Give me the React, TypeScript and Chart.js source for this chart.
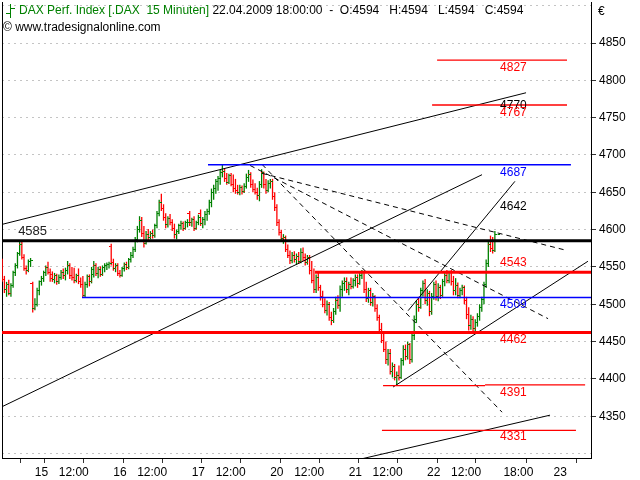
import React, { useEffect, useRef } from 'react';
import { Chart, registerables } from 'chart.js';

Chart.register(...registerables);

// ---------------- data ----------------
const BARS_PER_SESSION = 36;
const sessionDays = ['14', '15', '16', '17', '20', '21', '22'];

// [open, high, low, close] per 15-minute bar
const day14 = [
  [4556, 4561, 4530, 4533], [4533, 4538, 4515, 4520], [4520, 4530, 4510, 4527], [4527, 4533, 4512, 4515],
  [4515, 4528, 4510, 4525], [4525, 4545, 4522, 4542], [4542, 4555, 4538, 4552], [4552, 4570, 4548, 4568],
  [4568, 4585, 4565, 4580], [4580, 4584, 4560, 4563], [4563, 4567, 4545, 4548], [4548, 4552, 4540, 4545],
  [4545, 4560, 4543, 4557], [4557, 4562, 4550, 4558],
];
const day15 = [
  [4528, 4530, 4489, 4494], [4494, 4508, 4492, 4500], [4500, 4522, 4497, 4518], [4518, 4532, 4512, 4530],
  [4530, 4538, 4525, 4534], [4534, 4545, 4530, 4543], [4543, 4552, 4538, 4549], [4549, 4557, 4540, 4543],
  [4543, 4548, 4530, 4535], [4540, 4544, 4530, 4533], [4533, 4542, 4528, 4538], [4538, 4541, 4526, 4530],
  [4530, 4540, 4527, 4536], [4536, 4546, 4533, 4542], [4542, 4548, 4534, 4538], [4538, 4549, 4532, 4545],
  [4545, 4558, 4540, 4552], [4552, 4555, 4534, 4538], [4538, 4550, 4532, 4536], [4536, 4549, 4528, 4532],
  [4532, 4541, 4529, 4538], [4538, 4548, 4527, 4530], [4530, 4536, 4522, 4526], [4526, 4538, 4509, 4512],
  [4512, 4530, 4509, 4527], [4527, 4540, 4522, 4537], [4537, 4540, 4524, 4530], [4530, 4550, 4528, 4547],
  [4540, 4558, 4536, 4552], [4552, 4555, 4538, 4541], [4541, 4550, 4535, 4547], [4547, 4551, 4537, 4540],
  [4540, 4552, 4538, 4549], [4549, 4555, 4543, 4552], [4552, 4556, 4546, 4553], [4553, 4557, 4548, 4555],
];
const day16 = [
  [4578, 4581, 4552, 4556], [4556, 4561, 4545, 4548], [4548, 4555, 4543, 4552], [4552, 4555, 4538, 4541],
  [4541, 4546, 4536, 4539], [4539, 4550, 4537, 4548], [4548, 4556, 4544, 4553], [4553, 4557, 4546, 4549],
  [4549, 4562, 4547, 4560], [4560, 4570, 4556, 4566], [4566, 4577, 4562, 4573], [4573, 4590, 4570, 4587],
  [4587, 4605, 4583, 4600], [4600, 4618, 4596, 4612], [4612, 4617, 4590, 4595], [4595, 4605, 4576, 4582],
  [4582, 4598, 4580, 4594], [4594, 4601, 4586, 4590], [4590, 4598, 4587, 4595], [4595, 4600, 4588, 4592],
  [4592, 4608, 4589, 4605], [4605, 4625, 4602, 4622], [4622, 4640, 4618, 4636], [4636, 4648, 4625, 4628],
  [4628, 4634, 4612, 4616], [4616, 4622, 4602, 4607], [4607, 4618, 4603, 4615], [4615, 4621, 4606, 4610],
  [4610, 4614, 4598, 4602], [4602, 4608, 4588, 4593], [4593, 4600, 4587, 4597], [4597, 4608, 4594, 4605],
  [4605, 4612, 4600, 4608], [4608, 4611, 4598, 4602], [4602, 4612, 4600, 4609], [4609, 4614, 4603, 4610],
];
const day17 = [
  [4622, 4625, 4605, 4609], [4609, 4616, 4604, 4613], [4613, 4618, 4598, 4602], [4602, 4612, 4600, 4610],
  [4610, 4620, 4606, 4616], [4622, 4627, 4605, 4608], [4608, 4617, 4602, 4614], [4614, 4625, 4606, 4620],
  [4620, 4628, 4612, 4624], [4624, 4640, 4620, 4636], [4636, 4655, 4630, 4650], [4650, 4660, 4640, 4655],
  [4655, 4668, 4648, 4664], [4664, 4672, 4652, 4668], [4668, 4680, 4660, 4676], [4676, 4687, 4670, 4678],
  [4678, 4682, 4664, 4668], [4668, 4676, 4660, 4663], [4663, 4675, 4661, 4672], [4672, 4676, 4658, 4661],
  [4661, 4674, 4650, 4655], [4655, 4668, 4648, 4652], [4652, 4660, 4647, 4650], [4650, 4660, 4646, 4656],
  [4656, 4659, 4647, 4651], [4651, 4662, 4649, 4658], [4658, 4675, 4655, 4670], [4670, 4680, 4664, 4674],
  [4674, 4677, 4656, 4660], [4660, 4667, 4650, 4654], [4654, 4662, 4647, 4650], [4650, 4656, 4640, 4646],
  [4646, 4665, 4638, 4660], [4660, 4681, 4656, 4676], [4676, 4678, 4655, 4660], [4660, 4668, 4648, 4652],
];
const day20 = [
  [4652, 4666, 4650, 4662], [4662, 4668, 4655, 4664], [4664, 4668, 4640, 4645], [4645, 4650, 4625, 4630],
  [4630, 4634, 4605, 4610], [4610, 4614, 4592, 4596], [4596, 4600, 4584, 4588], [4588, 4594, 4581, 4590],
  [4590, 4592, 4570, 4574], [4574, 4580, 4562, 4566], [4566, 4572, 4554, 4558], [4558, 4570, 4555, 4566],
  [4566, 4571, 4556, 4560], [4560, 4568, 4553, 4564], [4564, 4570, 4554, 4557], [4557, 4575, 4555, 4570],
  [4570, 4576, 4558, 4562], [4562, 4568, 4552, 4556], [4556, 4566, 4553, 4562], [4562, 4566, 4540, 4545],
  [4545, 4558, 4528, 4532], [4532, 4548, 4515, 4520], [4520, 4540, 4515, 4536], [4536, 4542, 4518, 4522],
  [4522, 4526, 4505, 4510], [4510, 4518, 4496, 4500], [4500, 4508, 4488, 4492], [4492, 4505, 4485, 4500],
  [4500, 4503, 4478, 4482], [4482, 4490, 4472, 4478], [4478, 4495, 4475, 4490], [4490, 4510, 4486, 4505],
  [4505, 4512, 4494, 4498], [4498, 4525, 4490, 4520], [4520, 4532, 4510, 4528], [4528, 4536, 4518, 4530],
];
const day21 = [
  [4530, 4536, 4515, 4520], [4520, 4530, 4512, 4527], [4527, 4536, 4520, 4524], [4524, 4535, 4521, 4532],
  [4532, 4540, 4524, 4536], [4536, 4540, 4522, 4528], [4528, 4542, 4526, 4539], [4539, 4546, 4534, 4543],
  [4543, 4545, 4515, 4520], [4520, 4530, 4503, 4508], [4508, 4522, 4502, 4518], [4518, 4522, 4498, 4502],
  [4502, 4515, 4497, 4510], [4510, 4512, 4490, 4494], [4494, 4500, 4478, 4482], [4482, 4486, 4462, 4466],
  [4466, 4475, 4448, 4452], [4452, 4462, 4436, 4440], [4440, 4450, 4420, 4426], [4426, 4440, 4418, 4434],
  [4434, 4440, 4406, 4410], [4410, 4422, 4402, 4416], [4416, 4420, 4398, 4402], [4402, 4410, 4391, 4405],
  [4405, 4418, 4398, 4402], [4402, 4428, 4400, 4424], [4424, 4445, 4418, 4440], [4440, 4446, 4425, 4430],
  [4430, 4450, 4426, 4446], [4446, 4448, 4420, 4426], [4426, 4462, 4422, 4458], [4458, 4485, 4452, 4480],
  [4480, 4505, 4475, 4500], [4500, 4510, 4490, 4496], [4496, 4522, 4494, 4518], [4518, 4532, 4510, 4528],
];
const day22 = [
  [4528, 4534, 4500, 4505], [4505, 4520, 4498, 4515], [4515, 4518, 4484, 4490], [4490, 4515, 4486, 4510],
  [4510, 4530, 4506, 4526], [4526, 4532, 4505, 4510], [4510, 4528, 4504, 4522], [4522, 4526, 4507, 4512],
  [4512, 4534, 4510, 4530], [4530, 4542, 4524, 4538], [4538, 4546, 4528, 4532], [4532, 4545, 4528, 4542],
  [4542, 4546, 4525, 4530], [4530, 4538, 4512, 4518], [4518, 4535, 4512, 4525], [4525, 4529, 4508, 4512],
  [4512, 4522, 4508, 4518], [4518, 4526, 4512, 4522], [4522, 4525, 4500, 4505], [4505, 4510, 4480, 4486],
  [4486, 4496, 4465, 4472], [4472, 4486, 4466, 4480], [4480, 4484, 4462, 4468], [4468, 4480, 4464, 4476],
  [4476, 4488, 4470, 4484], [4484, 4500, 4478, 4495], [4495, 4510, 4490, 4506], [4506, 4530, 4500, 4526],
  [4526, 4560, 4522, 4555], [4555, 4586, 4550, 4580], [4580, 4592, 4570, 4575], [4575, 4590, 4568, 4572],
  [4572, 4598, 4570, 4594], [4594, 4594, 4594, 4594],
];
const sessions = [day14, day15, day16, day17, day20, day21, day22];

// axis
const X_MIN = 21.9;
const X_MAX = 292.1;
const Y_MIN = 4294;
const Y_MAX = 4905;
const xTickValues = [36, 47, 72, 83, 108, 119, 144, 155, 180, 191, 216, 227, 251, 274];
const xTickLabels = ['15', '12:00', '16', '12:00', '17', '12:00', '20', '12:00', '21', '12:00', '22', '12:00', '18:00', '23'];
const yTickValues = [4300, 4350, 4400, 4450, 4500, 4550, 4600, 4650, 4700, 4750, 4800, 4850, 4900];
const yTickLabeled = [4350, 4400, 4450, 4500, 4550, 4600, 4650, 4700, 4750, 4800, 4850];

// horizontal levels
const levelValues = [4585, 4543, 4462, 4509, 4687, 4827, 4767, 4391, 4392, 4331];
const levelFrom = [X_MIN, 165.5, X_MIN, 58.6, 116.4, 221.5, 219.2, 196.7, 243.5, 196.2];
const levelTo = [X_MAX, X_MAX, X_MAX, X_MAX, 282.9, 281.1, 281.1, 243.5, 289.4, 285.2];

// trend lines [index, price]
const trendFrom = [[21.9, 4607], [21.9, 4362.7], [208.2, 4491.4], [201.3, 4389.1], [185, 4291.6]];
const trendTo = [[262.3, 4783.4], [242.1, 4673.6], [257.2, 4664.7], [290.7, 4557.6], [273.3, 4351.4]];
const fanFrom = [[141.2, 4675.4], [135.7, 4686], [141.2, 4687.4]];
const fanTo = [[280.2, 4572.7], [272.4, 4480.7], [251.3, 4355.4]];

// level texts
const priceLabels = ['4827', '4770', '4767', '4687', '4642', '4543', '4509', '4462', '4391', '4331'];
const priceLabelValues = [4827, 4770, 4767, 4687, 4642, 4543, 4509, 4462, 4391, 4331];
const leftLabel = '4585';
const leftLabelValue = 4585;

const titleName = 'DAX Perf. Index [.DAX  15 Minuten]';
const titleQuote = ' 22.04.2009 18:00:00  -  O:4594   H:4594   L:4594   C:4594';
const copyright = '\u00A9 www.tradesignalonline.com';
const currency = '\u20AC';

// ---------------- styles ----------------
const GREEN = '#008000';
const RED = '#ff0000';
const BLUE = '#0000ff';
const BLACK = '#000000';
const FONT = 'Arial, "Liberation Sans", sans-serif';
const levelColors = [BLACK, RED, RED, BLUE, BLUE, RED, RED, RED, RED, RED];
const levelWidths = [3, 3, 3, 1.5, 1.5, 1.3, 1.3, 1.3, 1.3, 1.3];
const priceLabelColors = [RED, BLACK, RED, BLUE, BLACK, RED, BLUE, RED, RED, RED];
const priceLabelDy = [7, 3, 8, 8, 8, -9, 7, 7, 7, 6];
const PRICE_LABEL_X = 250.4;
const LEFT_LABEL_X = 29.3;

function makeTick(color: string, side: 'left' | 'right') {
  const c = document.createElement('canvas');
  c.width = 5;
  c.height = 1;
  const g = c.getContext('2d')!;
  g.fillStyle = color;
  g.fillRect(side === 'left' ? 0 : 3, 0, 2, 1);
  return c;
}

export default function App() {
  const ref = useRef<HTMLCanvasElement>(null);

  useEffect(() => {
    const bars: { x: number; o: number; h: number; l: number; c: number }[] = [];
    sessions.forEach((day, d) => {
      const start = d * BARS_PER_SESSION + (d === 0 ? BARS_PER_SESSION - day.length : 0);
      day.forEach((b, k) => bars.push({ x: start + k, o: b[0], h: b[1], l: b[2], c: b[3] }));
    });
    const up = bars.filter((b) => b.c >= b.o);
    const down = bars.filter((b) => b.c < b.o);

    const tickSet = {
      gl: makeTick(GREEN, 'left'), gr: makeTick(GREEN, 'right'),
      rl: makeTick(RED, 'left'), rr: makeTick(RED, 'right'),
    };

    const hl = (arr: typeof bars, color: string) => ({
      type: 'bar' as const,
      data: arr.map((b) => ({ x: b.x, y: [b.l, b.h] })),
      backgroundColor: color,
      borderWidth: 0,
      barThickness: 1.3,
      inflateAmount: 0,
      grouped: false,
      order: 3,
    });
    const ticks = (arr: typeof bars, key: 'o' | 'c', img: HTMLCanvasElement) => ({
      type: 'line' as const,
      data: arr.map((b) => ({ x: b.x, y: b[key] })),
      showLine: false,
      pointStyle: img,
      pointRadius: 1,
      pointHoverRadius: 1,
      order: 2,
    });
    const seg = (a: number[], b: number[], color: string, width: number, dash: number[] = []) => ({
      type: 'line' as const,
      data: [{ x: a[0], y: a[1] }, { x: b[0], y: b[1] }],
      borderColor: color,
      borderWidth: width,
      borderDash: dash,
      pointRadius: 0,
      fill: false,
      tension: 0,
      order: 0,
    });

    const datasets: any[] = [];
    levelValues.forEach((v, k) => datasets.push(seg([levelFrom[k], v], [levelTo[k], v], levelColors[k], levelWidths[k])));
    trendFrom.forEach((a, k) => datasets.push(seg(a, trendTo[k], BLACK, 1)));
    fanFrom.forEach((a, k) => datasets.push(seg(a, fanTo[k], BLACK, 1, [5, 4])));
    datasets.push(ticks(up, 'o', tickSet.gl), ticks(up, 'c', tickSet.gr));
    datasets.push(ticks(down, 'o', tickSet.rl), ticks(down, 'c', tickSet.rr));
    datasets.push(hl(up, GREEN), hl(down, RED));

    const textPlugin = {
      id: 'levelTexts',
      afterDatasetsDraw(chart: any) {
        const { ctx, scales } = chart;
        ctx.save();
        ctx.font = `12px ${FONT}`;
        ctx.textBaseline = 'middle';
        ctx.textAlign = 'left';
        priceLabels.forEach((t, k) => {
          ctx.fillStyle = priceLabelColors[k];
          ctx.fillText(t, scales.x.getPixelForValue(PRICE_LABEL_X), scales.y.getPixelForValue(priceLabelValues[k]) + priceLabelDy[k]);
        });
        ctx.fillStyle = '#222';
        ctx.font = `13px ${FONT}`;
        ctx.fillText(leftLabel, scales.x.getPixelForValue(LEFT_LABEL_X), scales.y.getPixelForValue(leftLabelValue) - 9);
        ctx.restore();
      },
    };
    const headerPlugin = {
      id: 'header',
      afterDraw(chart: any) {
        const { ctx } = chart;
        ctx.save();
        ctx.strokeStyle = GREEN;
        ctx.lineWidth = 1;
        ctx.beginPath();
        ctx.moveTo(10.5, 4); ctx.lineTo(10.5, 18);
        ctx.moveTo(6, 13.5); ctx.lineTo(10.5, 13.5);
        ctx.moveTo(10.5, 8.5); ctx.lineTo(15, 8.5);
        ctx.stroke();
        ctx.font = `12px ${FONT}`;
        ctx.textBaseline = 'middle';
        ctx.textAlign = 'left';
        ctx.fillStyle = GREEN;
        ctx.fillText(titleName, 19, 11);
        const w = ctx.measureText(titleName).width;
        ctx.fillStyle = BLACK;
        ctx.fillText(titleQuote, 19 + w, 11);
        ctx.fillText(copyright, 3, 28);
        ctx.fillText(currency, 598, 12);
        ctx.restore();
      },
    };

    const chart = new Chart(ref.current!, {
      type: 'bar',
      data: { datasets },
      options: {
        animation: false,
        responsive: true,
        maintainAspectRatio: false,
        devicePixelRatio: 1,
        events: [],
        layout: { padding: 0 },
        plugins: { legend: { display: false }, tooltip: { enabled: false }, title: { display: false } },
        scales: {
          x: {
            type: 'linear',
            min: X_MIN,
            max: X_MAX,
            offset: false,
            afterBuildTicks: (s: any) => { s.ticks = xTickValues.map((v) => ({ value: v })); },
            afterFit: (s: any) => { s.height = 22; s.paddingLeft = 0; s.paddingRight = 0; },
            ticks: {
              autoSkip: false, maxRotation: 0, minRotation: 0, align: 'start', labelOffset: 2, padding: 2,
              color: BLACK, font: { family: FONT, size: 12 },
              callback: (v: any) => { const k = xTickValues.indexOf(Number(v)); return k >= 0 ? xTickLabels[k] : ''; },
            },
            grid: { drawOnChartArea: false, drawTicks: true, tickLength: 5, tickColor: '#333', tickWidth: 1 },
            border: { display: true, color: BLACK, width: 1 },
          },
          y: {
            type: 'linear',
            position: 'right',
            min: Y_MIN,
            max: Y_MAX,
            afterBuildTicks: (s: any) => { s.ticks = yTickValues.map((v) => ({ value: v })); },
            afterFit: (s: any) => { s.width = 49; s.paddingTop = 0; s.paddingBottom = 0; },
            ticks: {
              padding: 3, color: BLACK, font: { family: FONT, size: 12 },
              callback: (v: any) => (yTickLabeled.includes(Number(v)) ? String(v) : ''),
            },
            grid: {
              color: '#c4c4c4', lineWidth: 1, drawTicks: true, tickLength: 5, tickWidth: 1,
              tickColor: (c: any) => (c.tick && yTickLabeled.includes(c.tick.value) ? '#333' : 'rgba(0,0,0,0)'),
            },
            border: { display: true, color: BLACK, width: 1, dash: [2, 4] },
          },
          yl: {
            type: 'linear',
            position: 'left',
            display: true,
            ticks: { display: false },
            grid: { display: false },
            afterFit: (s: any) => { s.width = 2; s.paddingTop = 0; s.paddingBottom = 0; },
            border: { display: true, color: BLACK, width: 1 },
          },
        },
      } as any,
      plugins: [textPlugin, headerPlugin],
    });
    return () => chart.destroy();
  }, []);

  return (
    <div style={{ position: 'absolute', left: 0, top: 0, width: 640, height: 480, background: '#fff' }}>
      <canvas ref={ref} />
    </div>
  );
}
